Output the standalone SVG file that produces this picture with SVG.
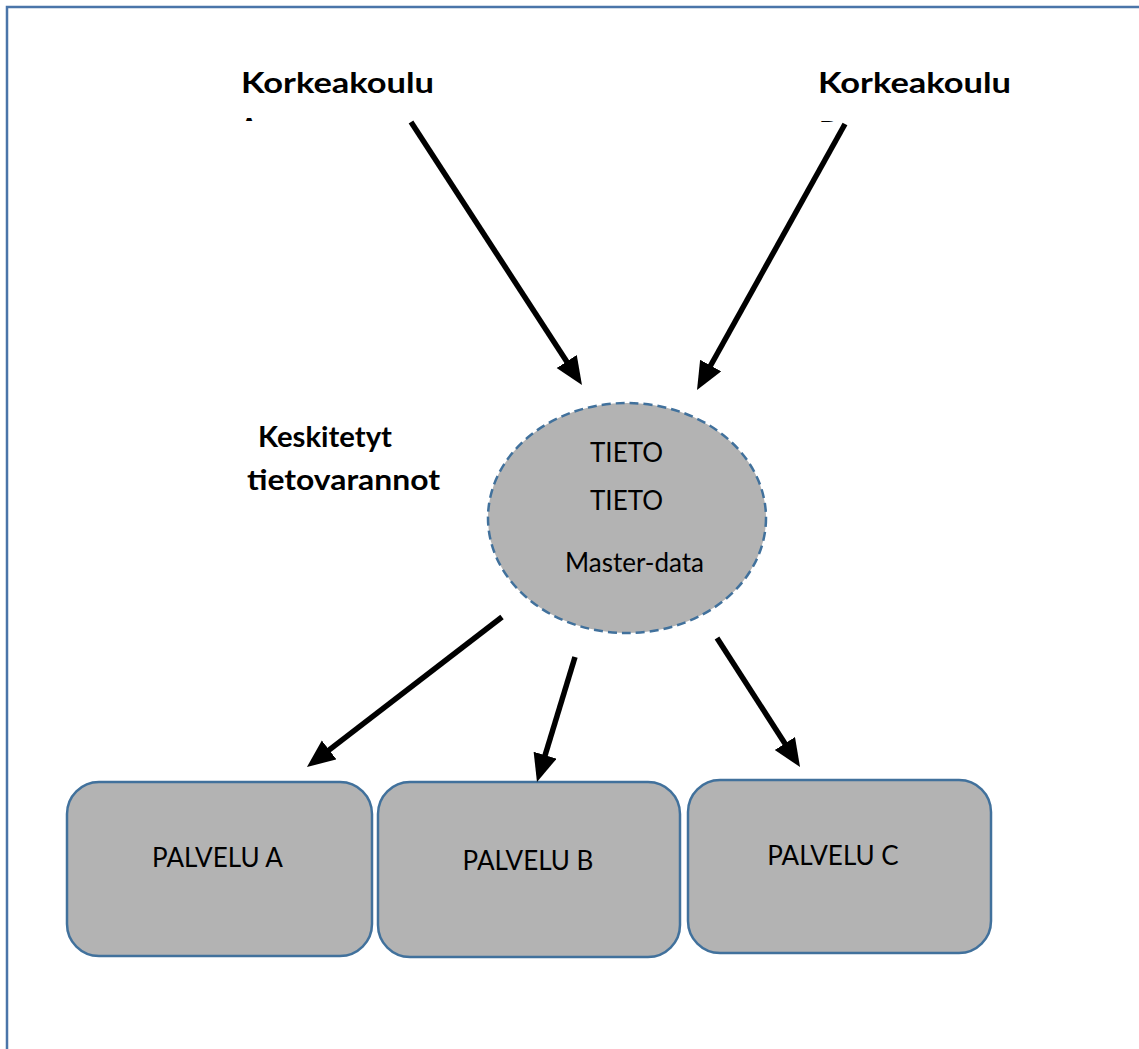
<svg xmlns="http://www.w3.org/2000/svg" width="1139" height="1049" viewBox="0 0 1139 1049">
  <style>
    .frame { stroke: #4a75a9; stroke-width: 2.5; fill: none; }
    .head { font-family: Lato, "Liberation Sans", sans-serif; font-weight: bold; font-size: 29px; fill: #000; }
    .label { font-family: Lato, "Liberation Sans", sans-serif; font-size: 26px; fill: #000; }
    .service { fill: #b3b3b3; stroke: #41719c; stroke-width: 2.5; }
    .store { fill: #b3b3b3; stroke: #41719c; stroke-width: 2.5; stroke-dasharray: 9 5; }
    .conn { stroke: #000; stroke-width: 5.5; fill: none; marker-end: url(#arrow); }
  </style>
  <defs>
    <marker id="arrow" markerUnits="userSpaceOnUse" markerWidth="30" markerHeight="26" refX="20" refY="12" orient="auto">
      <path d="M0,0 L28,12 L0,24 Z" fill="#000"/>
    </marker>
    <clipPath id="cut-a"><rect x="230" y="117" width="40" height="4"/></clipPath>
    <clipPath id="cut-b"><rect x="810" y="119" width="40" height="3"/></clipPath>
  </defs>

  <rect width="1139" height="1049" fill="#fff"/>
  <!-- page border: left and top edges only -->
  <path class="frame" d="M7,1049 V7 H1139"/>

  <g id="source-a">
    <text class="head" x="241" y="93" textLength="193" lengthAdjust="spacingAndGlyphs">Korkeakoulu</text>
    <text class="head" x="239" y="139" clip-path="url(#cut-a)">A</text>
  </g>
  <g id="source-b">
    <text class="head" x="818" y="93" textLength="193" lengthAdjust="spacingAndGlyphs">Korkeakoulu</text>
    <text class="head" x="819" y="142" clip-path="url(#cut-b)">B</text>
  </g>

  <g id="store-caption">
    <text class="head" x="258" y="447" textLength="134" lengthAdjust="spacingAndGlyphs">Keskitetyt</text>
    <text class="head" x="247" y="490" textLength="193" lengthAdjust="spacingAndGlyphs">tietovarannot</text>
  </g>

  <g id="store">
    <ellipse class="store" cx="627" cy="518" rx="139" ry="115"/>
    <text class="label" x="626.5" y="462" text-anchor="middle">TIETO</text>
    <text class="label" x="626.5" y="510" text-anchor="middle">TIETO</text>
    <text class="label" x="634.5" y="572" text-anchor="middle">Master-data</text>
  </g>

  <g id="service-a">
    <rect class="service" x="67" y="782" width="305" height="174" rx="32"/>
    <text class="label" x="217.5" y="867" text-anchor="middle">PALVELU A</text>
  </g>
  <g id="service-b">
    <rect class="service" x="378" y="782" width="302" height="175" rx="32"/>
    <text class="label" x="528" y="870" text-anchor="middle">PALVELU B</text>
  </g>
  <g id="service-c">
    <rect class="service" x="688" y="780" width="303" height="173" rx="32"/>
    <text class="label" x="833" y="865" text-anchor="middle">PALVELU C</text>
  </g>

  <g id="connectors">
    <line class="conn" x1="411" y1="122" x2="577.6" y2="378.3"/>
    <line class="conn" x1="845" y1="124" x2="700.9" y2="383"/>
    <line class="conn" x1="502" y1="617" x2="313.3" y2="762.1"/>
    <line class="conn" x1="575" y1="657" x2="539.3" y2="774.3"/>
    <line class="conn" x1="717" y1="638" x2="795.7" y2="760.3"/>
  </g>
</svg>
